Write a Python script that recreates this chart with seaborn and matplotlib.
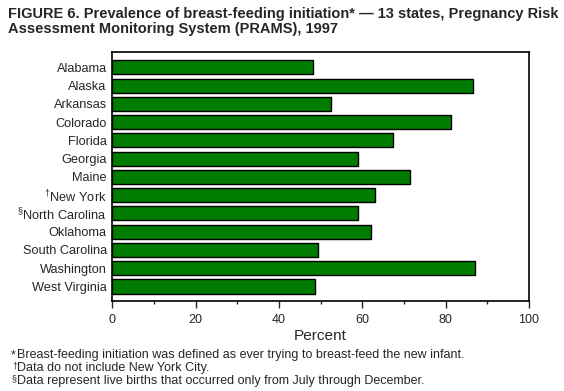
import pandas as pd
import seaborn as sns
import matplotlib
matplotlib.use("Agg")
import matplotlib.pyplot as plt
from matplotlib.ticker import MultipleLocator

# Data
states = ["Alabama", "Alaska", "Arkansas", "Colorado", "Florida", "Georgia",
          "Maine", "$^{\u2020}$New York", "$^{\u00a7}$North Carolina", "Oklahoma",
          "South Carolina", "Washington", "West Virginia"]
percent = [48.1, 86.5, 52.6, 81.2, 67.3, 58.9, 71.4, 63.0, 58.9, 62.2, 49.3, 87.0, 48.6]

note_marks = ["*", "\u2020", "\u00a7"]
notes = ["Breast-feeding initiation was defined as ever trying to breast-feed the new infant.",
         "Data do not include New York City.",
         "Data represent live births that occurred only from July through December."]

df = pd.DataFrame({"state": states, "percent": percent})

sns.set_style("white")
plt.rcParams["font.family"] = ["Liberation Sans", "DejaVu Sans"]
plt.rcParams["mathtext.fontset"] = "custom"
plt.rcParams["mathtext.rm"] = "Liberation Sans"
plt.rcParams["mathtext.default"] = "rm"

fig = plt.figure(figsize=(5.64, 3.91), dpi=100)
ax = fig.add_axes([0.199, 0.229, 0.739, 0.637])

sns.barplot(data=df, x="percent", y="state", orient="h", color="#007c00",
            saturation=1, width=0.77, edgecolor="black", linewidth=1.0, ax=ax)

ax.set_xlim(0, 100)
ax.set_ylim(12.82, -0.82)
ax.xaxis.set_major_locator(MultipleLocator(20))
ax.xaxis.set_minor_locator(MultipleLocator(10))
ax.tick_params(axis="x", which="major", direction="out", length=5, width=1,
               labelsize=9, pad=4, bottom=True)
ax.tick_params(axis="x", which="minor", direction="out", length=2.5, width=1, bottom=True)
ax.tick_params(axis="y", length=0, labelsize=9.2, pad=4)
for s in ax.spines.values():
    s.set_color("black")
    s.set_linewidth(1.2)

ax.set_xlabel("Percent", fontsize=11.1, labelpad=2)
ax.set_ylabel("")

fig.text(0.014, 0.963, "FIGURE 6. Prevalence of breast-feeding initiation* \u2014 13 states, Pregnancy Risk",
         fontsize=10.55, fontweight="bold", va="center", ha="left")
fig.text(0.014, 0.926, "Assessment Monitoring System (PRAMS), 1997",
         fontsize=10.55, fontweight="bold", va="center", ha="left")

# footnotes: marker + plain text
for i, (m, n) in enumerate(zip(note_marks, notes)):
    y = 1 - (355 + 13 * i) / 391
    if m == "*":
        fig.text(0.019, y, m, fontsize=9, va="center", ha="left")
    else:
        fig.text(0.021, y + 0.006, m, fontsize=6.5, va="center", ha="left")
    fig.text(0.031, y, n, fontsize=9, va="center", ha="left")

fig.savefig("out.png", dpi=100)
